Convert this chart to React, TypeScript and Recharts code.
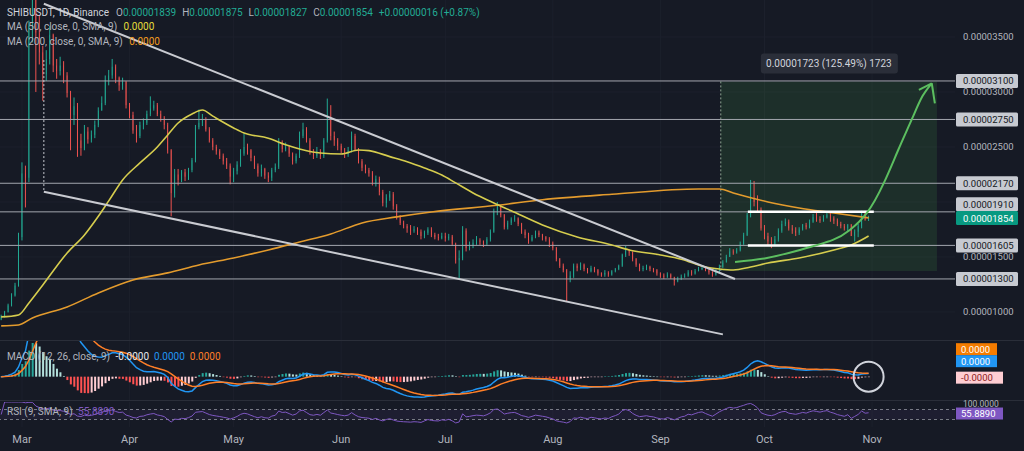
import React from 'react';
import {
  ComposedChart, Bar, Line, XAxis, YAxis, CartesianGrid,
  ReferenceLine, ReferenceArea, ReferenceDot,
} from 'recharts';

// prices are in units of 1e-8 USDT (1854 -> 0.00001854)
// one candle per day, day 0 = 1 Mar
const firstOpen = 930;
const closeFeb = [960, 1000, 1060, 1150, 1240, 1680];
const highFeb = [975, 1010, 1075, 1170, 1265, 1720];
const lowFeb = [925, 950, 995, 1050, 1140, 1230];

const closeMar = [2260, 2220, 3600, 3950, 3540, 3360, 3160, 3300, 3520, 3240, 3190, 3240, 3150, 2990, 2790, 2870, 2560, 2490, 2640, 2570, 2610, 2700, 2830, 2900, 3110, 3150, 3230, 3130, 3060, 3090, 2880];
const highMar = [2360, 2330, 3650, 4300, 4560, 3700, 3420, 3380, 3600, 3530, 3300, 3320, 3280, 3180, 3010, 2950, 2900, 2620, 2700, 2680, 2650, 2740, 2860, 2960, 3150, 3200, 3300, 3250, 3140, 3130, 3100];
const lowMar = [1650, 1950, 2180, 3450, 3000, 3250, 2920, 3100, 3250, 3180, 3120, 3150, 3080, 2950, 2470, 2700, 2410, 2420, 2470, 2530, 2540, 2580, 2680, 2840, 2880, 3060, 3120, 3080, 3010, 3020, 2850];

const closeApr = [2790, 2650, 2600, 2700, 2720, 2800, 2850, 2880, 2800, 2760, 2700, 2470, 2080, 2250, 2200, 2270, 2230, 2290, 2380, 2680, 2720, 2750, 2660, 2560, 2500, 2460, 2420, 2370, 2330, 2230];
const highApr = [2900, 2820, 2700, 2730, 2760, 2830, 2960, 2920, 2900, 2830, 2780, 2720, 2480, 2300, 2300, 2290, 2300, 2310, 2400, 2700, 2840, 2800, 2770, 2680, 2580, 2520, 2480, 2440, 2400, 2350];
const lowApr = [2760, 2620, 2540, 2580, 2660, 2700, 2780, 2830, 2780, 2730, 2660, 2440, 1870, 2040, 2150, 2180, 2190, 2200, 2270, 2360, 2660, 2690, 2640, 2540, 2470, 2430, 2390, 2340, 2300, 2160];

const closeMay = [2280, 2340, 2440, 2500, 2470, 2400, 2330, 2260, 2300, 2240, 2220, 2290, 2320, 2540, 2480, 2500, 2440, 2370, 2420, 2600, 2660, 2560, 2450, 2420, 2460, 2420, 2560, 2760, 2600, 2560, 2510];
const highMay = [2310, 2370, 2480, 2620, 2530, 2480, 2420, 2350, 2340, 2310, 2270, 2310, 2350, 2580, 2560, 2540, 2510, 2450, 2440, 2640, 2720, 2680, 2580, 2480, 2500, 2480, 2580, 2940, 2880, 2640, 2580];
const lowMay = [2180, 2250, 2320, 2420, 2430, 2370, 2300, 2230, 2230, 2210, 2180, 2190, 2270, 2300, 2450, 2460, 2410, 2340, 2350, 2400, 2580, 2540, 2430, 2390, 2400, 2390, 2400, 2540, 2560, 2510, 2470];

const closeJun = [2470, 2440, 2470, 2600, 2480, 2370, 2310, 2290, 2260, 2170, 2210, 2090, 1990, 2040, 2070, 1960, 1860, 1810, 1780, 1760, 1740, 1750, 1730, 1690, 1720, 1750, 1700, 1680, 1670, 1690];
const highJun = [2530, 2490, 2500, 2640, 2620, 2490, 2390, 2340, 2310, 2280, 2240, 2230, 2110, 2070, 2100, 2090, 1980, 1880, 1830, 1800, 1790, 1780, 1770, 1750, 1740, 1770, 1770, 1720, 1710, 1720];
const lowJun = [2440, 2400, 2410, 2450, 2470, 2350, 2280, 2260, 2230, 2150, 2140, 2060, 1960, 1950, 2010, 1930, 1840, 1790, 1760, 1720, 1700, 1720, 1700, 1660, 1670, 1700, 1680, 1660, 1650, 1660];

const closeJul = [1670, 1685, 1620, 1470, 1490, 1740, 1580, 1600, 1630, 1650, 1640, 1620, 1660, 1730, 1920, 1960, 1880, 1770, 1810, 1840, 1850, 1800, 1730, 1700, 1650, 1680, 1720, 1700, 1680, 1660, 1620];
const highJul = [1720, 1710, 1700, 1630, 1560, 1780, 1760, 1640, 1660, 1690, 1670, 1650, 1680, 1750, 1940, 2000, 1970, 1890, 1830, 1860, 1880, 1860, 1810, 1750, 1720, 1700, 1740, 1740, 1710, 1690, 1680];
const lowJul = [1640, 1650, 1600, 1440, 1300, 1470, 1550, 1560, 1580, 1610, 1610, 1590, 1600, 1640, 1720, 1880, 1860, 1750, 1750, 1790, 1820, 1780, 1710, 1670, 1620, 1640, 1670, 1680, 1650, 1640, 1590];

const closeAug = [1580, 1480, 1420, 1380, 1300, 1330, 1420, 1400, 1430, 1390, 1370, 1400, 1380, 1350, 1340, 1355, 1340, 1370, 1390, 1420, 1520, 1560, 1540, 1480, 1430, 1390, 1400, 1410, 1390, 1380, 1350];
const highAug = [1640, 1590, 1490, 1440, 1390, 1370, 1440, 1440, 1450, 1440, 1400, 1420, 1410, 1390, 1360, 1380, 1370, 1380, 1400, 1430, 1530, 1600, 1570, 1550, 1490, 1440, 1420, 1430, 1420, 1400, 1390];
const lowAug = [1560, 1460, 1400, 1360, 1090, 1270, 1310, 1370, 1380, 1370, 1350, 1360, 1360, 1330, 1320, 1320, 1320, 1330, 1360, 1380, 1410, 1500, 1510, 1460, 1410, 1370, 1370, 1380, 1370, 1360, 1330];

const closeSep = [1330, 1320, 1340, 1315, 1280, 1300, 1320, 1330, 1360, 1350, 1370, 1390, 1400, 1380, 1360, 1340, 1370, 1410, 1450, 1500, 1550, 1540, 1560, 1620, 1700, 1880, 2040, 2000, 1930, 1760];
const highSep = [1360, 1350, 1360, 1350, 1320, 1320, 1340, 1350, 1380, 1380, 1390, 1410, 1420, 1410, 1390, 1370, 1390, 1430, 1470, 1520, 1580, 1570, 1580, 1640, 1720, 1900, 2200, 2190, 2060, 1950];
const lowSep = [1310, 1300, 1310, 1300, 1240, 1270, 1290, 1310, 1320, 1330, 1340, 1370, 1380, 1370, 1340, 1320, 1330, 1360, 1400, 1460, 1510, 1520, 1530, 1550, 1610, 1690, 1860, 1960, 1900, 1740];

const closeOct = [1690, 1640, 1620, 1660, 1740, 1800, 1820, 1760, 1740, 1720, 1750, 1790, 1770, 1820, 1860, 1845, 1830, 1860, 1880, 1850, 1830, 1800, 1780, 1760, 1790, 1690, 1730, 1780, 1900, 1838, 1854];
const highOct = [1790, 1720, 1680, 1690, 1760, 1830, 1850, 1840, 1790, 1770, 1770, 1800, 1810, 1840, 1890, 1900, 1870, 1880, 1900, 1900, 1870, 1850, 1820, 1800, 1800, 1800, 1750, 1800, 1920, 1920, 1875];
const lowOct = [1660, 1600, 1580, 1600, 1640, 1720, 1780, 1740, 1710, 1690, 1700, 1740, 1750, 1760, 1810, 1820, 1810, 1820, 1850, 1820, 1800, 1780, 1760, 1740, 1730, 1740, 1640, 1680, 1760, 1830, 1827];

// header values of the last candle as printed on the chart
const lastOHLC = [1839, 1875, 1827, 1854];

// moving averages as [day, value]
const ma50Points = [[-6, 955], [-1, 973], [2, 1082], [6, 1245], [13, 1536], [18, 1700], [22, 1870], [25, 2010], [29, 2200], [34, 2355], [39, 2500], [42, 2609], [45, 2718], [49, 2800], [52, 2836], [55, 2780], [61, 2673], [64, 2627], [71, 2580], [76, 2520], [80, 2482], [86, 2445], [92, 2436], [97, 2473], [100, 2467], [106, 2412], [111, 2366], [116, 2309], [121, 2245], [125, 2173], [130, 2082], [136, 1991], [141, 1920], [150, 1791], [160, 1682], [170, 1609], [175, 1564], [184, 1518], [190, 1480], [197, 1409], [201, 1391], [205, 1382], [210, 1409], [215, 1445], [224, 1491], [234, 1564], [239, 1609], [244, 1691]];
const ma200Points = [[-6, 873], [-1, 882], [3, 945], [13, 1045], [22, 1173], [32, 1291], [42, 1355], [51, 1427], [61, 1491], [71, 1564], [80, 1636], [89, 1709], [98, 1809], [108, 1864], [118, 1909], [137, 1970], [150, 2020], [170, 2070], [195, 2118], [201, 2118], [205, 2082], [215, 2000], [224, 1945], [234, 1900], [244, 1855]];
const projection = [[205.5, 1455], [214.7, 1491], [224.2, 1564], [233.7, 1655], [238.6, 1745], [243.5, 1900], [248.4, 2173], [252.5, 2470], [256.5, 2755], [259.5, 2960], [262.2, 3079]];

const levels = [3100, 2750, 2170, 1910, 1605, 1300];
const measureFrom = 1373;
const measureTo = 3096;
const rsiLast = 55.889;

const monthStarts = [0, 31, 61, 92, 122, 153, 184, 214, 245];
const monthLabels = ['Mar', 'Apr', 'May', 'Jun', 'Jul', 'Aug', 'Sep', 'Oct', 'Nov'];
const gridPrices = [1000, 1500, 2000, 2500, 3000, 3500];
const mainTicks = [3500, 3000, 3100, 2750, 2500, 2170, 1910, 1854, 1500, 1605, 1300, 1000];

const BG = '#161a25';
const GRID = '#1c202c';
const UP = '#22ab94';
const DOWN = '#ef5350';
const TXT = '#b2b5be';
const FONT = "Roboto, 'DejaVu Sans', sans-serif";

const closes = [...closeFeb, ...closeMar, ...closeApr, ...closeMay, ...closeJun, ...closeJul, ...closeAug, ...closeSep, ...closeOct];
const highs = [...highFeb, ...highMar, ...highApr, ...highMay, ...highJun, ...highJul, ...highAug, ...highSep, ...highOct];
const lows = [...lowFeb, ...lowMar, ...lowApr, ...lowMay, ...lowJun, ...lowJul, ...lowAug, ...lowSep, ...lowOct];

const ema = (src: number[], n: number) => {
  const k = 2 / (n + 1);
  const out: number[] = [];
  src.forEach((v, i) => out.push(i === 0 ? v : v * k + out[i - 1] * (1 - k)));
  return out;
};
const ema12 = ema(closes, 12);
const ema26 = ema(closes, 26);
const macd = closes.map((_, i) => ema12[i] - ema26[i]);
const signal = ema(macd, 9);

const rsi: number[] = [];
let avgGain = 0;
let avgLoss = 0;
closes.forEach((c, i) => {
  if (i === 0) { rsi.push(50); return; }
  const ch = c - closes[i - 1];
  const g = Math.max(ch, 0);
  const l = Math.max(-ch, 0);
  if (i === 1) { avgGain = g; avgLoss = l; } else { avgGain = (avgGain * 8 + g) / 9; avgLoss = (avgLoss * 8 + l) / 9; }
  rsi.push(avgLoss === 0 ? 100 : 100 - 100 / (1 + avgGain / avgLoss));
});

const candles = closes.map((c, i) => {
  const open = i === 0 ? firstOpen : closes[i - 1];
  const hist = macd[i] - signal[i];
  const prev = i === 0 ? 0 : macd[i - 1] - signal[i - 1];
  return {
    d: i - 6,
    open,
    close: c,
    high: Math.max(highs[i], open, c),
    low: Math.min(lows[i], open, c),
    macd: macd[i],
    signal: signal[i],
    hist,
    histColor: hist >= 0 ? (hist > prev ? '#26a69a' : '#b2dfdb') : (hist < prev ? '#ff5252' : '#ffcdd2'),
    rsi: rsi[i],
  };
});

const toRows = (pts: number[][]) => pts.map(([d, v]) => ({ d, v }));
const fmt = (v: number) => (v / 1e8).toFixed(8);
const X_DOMAIN = [-6.34, 268.9];

const Candle = (props: any) => {
  const { x, y, width, height, payload } = props;
  if (!payload) return null;
  const top = Math.min(y, y + height);
  const h = Math.abs(height);
  const span = payload.high - payload.low || 1;
  const py = (v: number) => top + ((payload.high - v) / span) * h;
  const color = payload.close >= payload.open ? UP : DOWN;
  const cx = x + width / 2;
  const bTop = py(Math.max(payload.open, payload.close));
  const bH = Math.max(1, py(Math.min(payload.open, payload.close)) - bTop);
  return (
    <g>
      <line x1={cx} x2={cx} y1={top} y2={top + h} stroke={color} strokeWidth={1} />
      <rect x={x} y={bTop} width={width} height={bH} fill={color} />
    </g>
  );
};

const HistBar = (props: any) => {
  const { x, y, width, height, payload } = props;
  const top = Math.min(y, y + height);
  return <rect x={x} y={top} width={width} height={Math.max(0.5, Math.abs(height))} fill={payload.histColor} />;
};

const tagStyle: Record<number, { bg: string; fg: string; shift: number }> = {
  3100: { bg: '#c7cad1', fg: '#131722', shift: 0 },
  2750: { bg: '#c7cad1', fg: '#131722', shift: 0 },
  2170: { bg: '#c7cad1', fg: '#131722', shift: 0 },
  1910: { bg: '#c7cad1', fg: '#131722', shift: -7.5 },
  1854: { bg: '#089981', fg: '#ffffff', shift: 0 },
  1605: { bg: '#c7cad1', fg: '#131722', shift: 0 },
  1300: { bg: '#c7cad1', fg: '#131722', shift: 0 },
};

const PriceTick = (props: any) => {
  const { x, y, payload } = props;
  const v = payload.value as number;
  const st = tagStyle[v];
  if (!st) {
    return <text x={x + 8} y={y} dy={3.5} fill={TXT} fontSize={9.5}>{fmt(v)}</text>;
  }
  const cy = y + st.shift;
  return (
    <g>
      <rect x={x + 1} y={cy - 7} width={62} height={14} rx={1.5} fill={st.bg} />
      <text x={x + 8} y={cy} dy={3.5} fill={st.fg} fontSize={9.5}>{fmt(v)}</text>
    </g>
  );
};

const MacdTick = (props: any) => {
  const { x, y } = props;
  const tags = [
    { t: '0.0000', bg: '#f57c00', fg: '#ffffff', dy: -27.5, w: 41 },
    { t: '0.0000', bg: '#2196f3', fg: '#ffffff', dy: -15.5, w: 41 },
    { t: '-0.0000', bg: '#ffcdd2', fg: '#8b1c1c', dy: 1, w: 47 },
  ];
  return (
    <g>
      {tags.map((g, i) => (
        <g key={i}>
          <rect x={x + 1} y={y + g.dy - 6} width={g.w} height={12} fill={g.bg} />
          <text x={x + 6} y={y + g.dy} dy={3.5} fill={g.fg} fontSize={9.5}>{g.t}</text>
        </g>
      ))}
    </g>
  );
};

const RsiTick = (props: any) => {
  const { x, y, payload } = props;
  const v = payload.value as number;
  if (v === 100) return <text x={x + 8} y={y + 2} dy={3} fill={TXT} fontSize={8.5}>100.0000</text>;
  return (
    <g>
      <rect x={x + 1} y={y - 5.5} width={47} height={12} fill="#7e57c2" />
      <text x={x + 6} y={y + 0.5} dy={3.5} fill="#ffffff" fontSize={9.5}>{v.toFixed(4)}</text>
    </g>
  );
};

const MeasureLabel = (props: any) => {
  const vb = props.viewBox || {};
  const cx = vb.x + vb.width / 2;
  const diff = measureTo - measureFrom;
  const pct = ((diff / measureFrom) * 100).toFixed(2);
  return (
    <g>
      <rect x={cx - 68} y={vb.y - 28} width={137} height={20} rx={3} fill="#2a2e39" />
      <text x={cx} y={vb.y - 18} dy={3.5} textAnchor="middle" fill="#d1d4dc" fontSize={10}>
        {`${fmt(diff)} (${pct}%) ${diff}`}
      </text>
    </g>
  );
};

const seg = (x1: number, y1: number, x2: number, y2: number) => [{ x: x1, y: y1 }, { x: x2, y: y2 }];

const legendRow = (top: number, children: React.ReactNode) => (
  <div style={{ position: 'absolute', left: 7, top, fontSize: 10, color: TXT, whiteSpace: 'nowrap', lineHeight: '14px' }}>
    {children}
  </div>
);

export default function App() {
  const [o, h, l, c] = lastOHLC;
  const prevClose = closes[closes.length - 2];
  const chg = c - prevClose;
  return (
    <div style={{ position: 'absolute', left: 0, top: 0, width: 1024, height: 451, background: BG, overflow: 'hidden', fontFamily: FONT }}>
      <div style={{ position: 'absolute', left: 0, top: 0 }}>
        <ComposedChart width={1024} height={340} data={candles} margin={{ top: 0, right: 0, bottom: 0, left: 0 }}>
          <CartesianGrid stroke={GRID} horizontalValues={gridPrices} verticalValues={monthStarts} />
          <XAxis dataKey="d" type="number" domain={X_DOMAIN} allowDataOverflow hide ticks={monthStarts} />
          <YAxis orientation="right" width={69} type="number" domain={[745, 3836]} allowDataOverflow
            ticks={mainTicks} interval={0} tick={<PriceTick />} tickLine={false} axisLine={false} tickSize={0} tickMargin={0} />
          <ReferenceArea x1={201.4} x2={263.7} y1={measureFrom} y2={measureTo} fill="#4caf50" fillOpacity={0.14} stroke="none" label={<MeasureLabel />} />
          {levels.map((v) => <ReferenceLine key={v} y={v} stroke="#a3a6ae" strokeWidth={1} />)}
          <ReferenceLine segment={seg(201.4, measureTo, 201.4, measureFrom)} stroke="#8fa593" strokeDasharray="2 2" />
          <Bar dataKey={(e: any) => [e.low, e.high]} barSize={2} shape={<Candle />} isAnimationActive={false} />
          <Line data={toRows(ma200Points)} dataKey="v" type="monotone" stroke="#e39b2d" strokeWidth={1.6} dot={false} activeDot={false} isAnimationActive={false} />
          <Line data={toRows(ma50Points)} dataKey="v" type="monotone" stroke="#d6cd4e" strokeWidth={1.6} dot={false} activeDot={false} isAnimationActive={false} />
          <ReferenceLine segment={seg(6.3, 3802, 205.5, 1300)} stroke="#c9cbd1" strokeWidth={2} />
          <ReferenceLine segment={seg(6.3, 2092, 202, 796)} stroke="#c9cbd1" strokeWidth={2} />
          <ReferenceLine segment={seg(6.3, 3290, 6.3, 2092)} stroke="#c9cbd1" strokeDasharray="2 2" />
          <ReferenceLine segment={seg(209.2, 1910, 245.5, 1910)} stroke="#ffffff" strokeWidth={2.5} />
          <ReferenceLine segment={seg(209.2, 1605, 245.5, 1605)} stroke="#ffffff" strokeWidth={2.5} />
          <Line data={toRows(projection)} dataKey="v" type="natural" stroke="#5cbf60" strokeWidth={2} dot={false} activeDot={false} isAnimationActive={false} />
          <ReferenceLine segment={seg(262.2, 3079, 258.5, 3018)} stroke="#5cbf60" strokeWidth={2} />
          <ReferenceLine segment={seg(262.2, 3079, 263.1, 2897)} stroke="#5cbf60" strokeWidth={2} />
        </ComposedChart>
      </div>

      <div style={{ position: 'absolute', left: 0, top: 340, width: 1024, height: 1, background: '#2a2e39' }} />
      <div style={{ position: 'absolute', left: 0, top: 341 }}>
        <ComposedChart width={1024} height={59} data={candles} margin={{ top: 0, right: 0, bottom: 0, left: 0 }}>
          <CartesianGrid stroke={GRID} horizontal={false} verticalValues={monthStarts} />
          <XAxis dataKey="d" type="number" domain={X_DOMAIN} allowDataOverflow hide ticks={monthStarts} />
          <YAxis orientation="right" width={69} type="number" domain={[-210, 321]} allowDataOverflow
            ticks={[0]} interval={0} tick={<MacdTick />} tickLine={false} axisLine={false} tickSize={0} tickMargin={0} />
          <Bar dataKey="hist" barSize={2} shape={<HistBar />} isAnimationActive={false} />
          <Line dataKey="macd" type="linear" stroke="#2196f3" strokeWidth={1.5} dot={false} activeDot={false} isAnimationActive={false} />
          <Line dataKey="signal" type="linear" stroke="#ff7f27" strokeWidth={1.5} dot={false} activeDot={false} isAnimationActive={false} />
          <ReferenceDot x={244} y={0} r={15} fill="none" stroke="#d1d4dc" strokeWidth={2} />
        </ComposedChart>
      </div>

      <div style={{ position: 'absolute', left: 0, top: 400, width: 1024, height: 1, background: '#2a2e39' }} />
      <div style={{ position: 'absolute', left: 0, top: 400 }}>
        <ComposedChart width={1024} height={51} data={candles} margin={{ top: 2, right: 0, bottom: 0, left: 0 }}>
          <CartesianGrid stroke={GRID} horizontal={false} verticalValues={monthStarts} />
          <XAxis dataKey="d" type="number" domain={X_DOMAIN} allowDataOverflow ticks={monthStarts} interval={0} height={24}
            tickFormatter={(v: number) => monthLabels[monthStarts.indexOf(v)]} tick={{ fill: TXT, fontSize: 11 }}
            tickLine={false} axisLine={false} />
          <YAxis orientation="right" width={69} type="number" domain={[0, 100]} allowDataOverflow
            ticks={[100, rsiLast]} interval={0} tick={<RsiTick />} tickLine={false} axisLine={false} tickSize={0} tickMargin={0} />
          <ReferenceArea y1={30} y2={70} fill="#7e57c2" fillOpacity={0.08} stroke="none" />
          <ReferenceLine y={70} stroke="#787b86" strokeDasharray="3 3" />
          <ReferenceLine y={30} stroke="#787b86" strokeDasharray="3 3" />
          <Line dataKey="rsi" type="linear" stroke="#7e57c2" strokeWidth={1} dot={false} activeDot={false} isAnimationActive={false} />
        </ComposedChart>
      </div>

      {legendRow(6, (
        <span>
          <span style={{ color: '#d1d4dc', marginRight: 7 }}>SHIBUSDT, 1D, Binance</span>
          O<span style={{ color: UP, marginRight: 6 }}>{fmt(o)}</span>
          H<span style={{ color: UP, marginRight: 6 }}>{fmt(h)}</span>
          L<span style={{ color: UP, marginRight: 6 }}>{fmt(l)}</span>
          C<span style={{ color: UP, marginRight: 6 }}>{fmt(c)}</span>
          <span style={{ color: UP }}>{`+${fmt(chg)} (+${((chg / prevClose) * 100).toFixed(2)}%)`}</span>
        </span>
      ))}
      {legendRow(20, (<span>MA (50, close, 0, SMA, 9) <span style={{ color: '#e6df3a', marginLeft: 4 }}>0.0000</span></span>))}
      {legendRow(35, (<span>MA (200, close, 0, SMA, 9) <span style={{ color: '#f39c1f', marginLeft: 4 }}>0.0000</span></span>))}
      {legendRow(350, (
        <span>MACD (12, 26, close, 9) <span style={{ color: '#e8e9ec', marginLeft: 3 }}>-0.0000</span>
          <span style={{ color: '#2196f3', marginLeft: 5 }}>0.0000</span>
          <span style={{ color: '#ff7f27', marginLeft: 5 }}>0.0000</span></span>
      ))}
      {legendRow(405, (<span>RSI (9, SMA, 9) <span style={{ color: '#7e57c2', marginLeft: 3 }}>{rsiLast.toFixed(4)}</span></span>))}
    </div>
  );
}
